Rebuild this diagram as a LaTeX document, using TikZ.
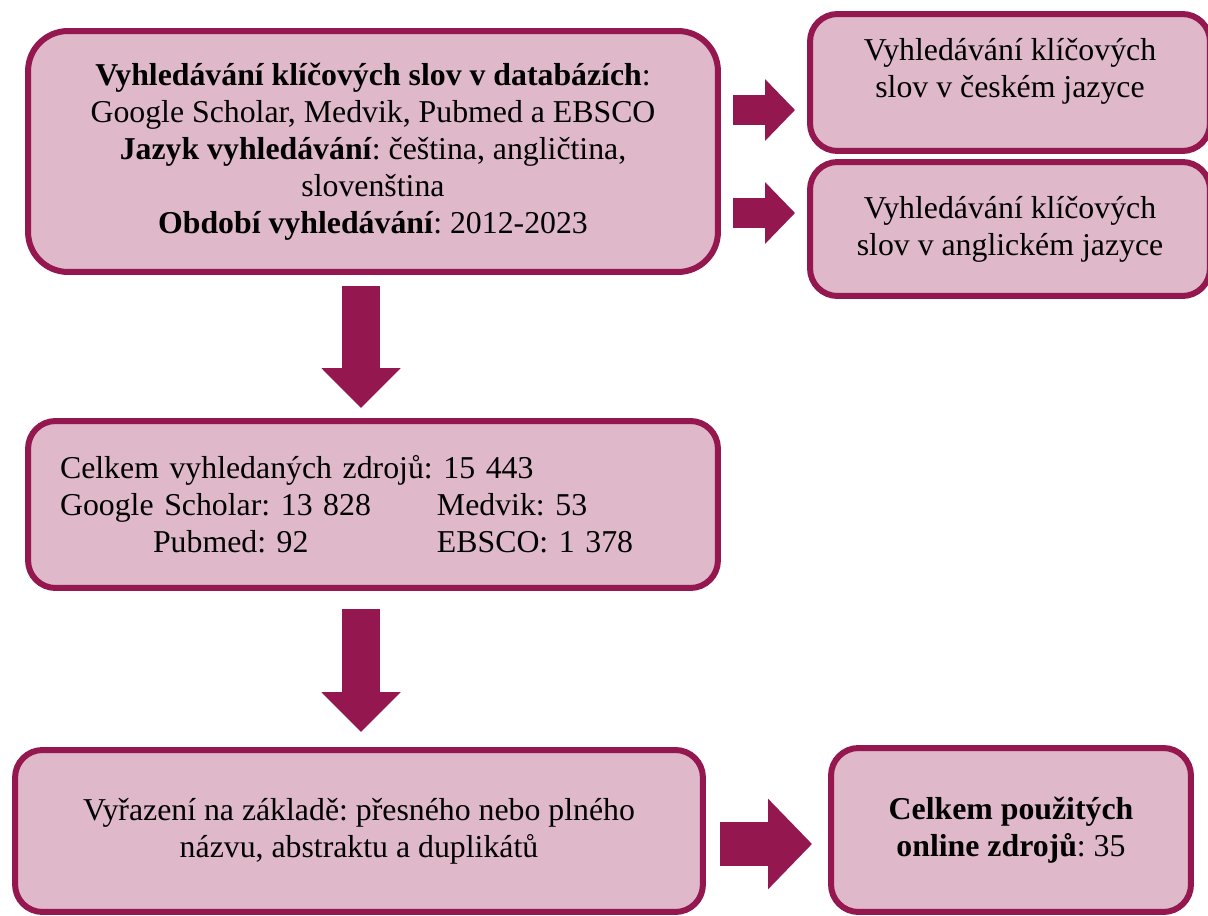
\documentclass[tikz,border=0pt]{standalone}
\usepackage{fontspec}
\setmainfont{Liberation Serif}
\usetikzlibrary{arrows.meta}
\definecolor{boxfill}{RGB}{223,184,201}
\definecolor{boxline}{RGB}{148,23,79}
\frenchspacing

\begin{document}
\begin{tikzpicture}[x=0.02cm, y=-0.02cm,
roundbox/.style={rectangle, rounded corners=0.55cm, draw=boxline, fill=boxfill, line width=0.12cm, align=center, font=\fontsize{18.1pt}{21pt}\selectfont},
thinarrow/.style={draw=boxline, line width=0.6cm, -{Triangle[width=1.2cm, length=0.6cm, fill=boxline]}},
downarrow/.style={draw=boxline, line width=0.78cm, -{Triangle[width=1.54cm, length=0.8cm, fill=boxline]}},
widearrow/.style={draw=boxline, line width=0.88cm, -{Triangle[width=1.76cm, length=0.88cm, fill=boxline]}},
]
\useasboundingbox (0,0) rectangle (1208,916);
%Nodes
\node[roundbox, rounded corners=0.8cm, minimum width=13.8cm, minimum height=4.82cm] at (373,151.5) (nodeSearch) {\textbf{Vyhledávání klíčových slov v databázích}:\\ Google Scholar, Medvik, Pubmed a EBSCO\\ \textbf{Jazyk vyhledávání}: čeština, angličtina,\\ slovenština\\ \textbf{Období vyhledávání}: 2012-2023};
\node[roundbox, minimum width=8cm, minimum height=2.74cm, text depth=0.6cm] at (1010,82.5) (nodeCZ) {Vyhledávání klíčových\\ slov v českém jazyce};
\node[roundbox, minimum width=8cm, minimum height=2.68cm] at (1010,229) (nodeEN) {Vyhledávání klíčových\\ slov v anglickém jazyce};
\node[roundbox, minimum width=13.8cm, minimum height=3.34cm, text width=12.52cm, align=left] at (373,504.5) (nodeTotal) {Celkem vyhledaných zdrojů: 15 443\\ \makebox[7.54cm][l]{Google Scholar: 13 828}Medvik: 53\\ \hspace*{1.86cm}\makebox[5.68cm][l]{Pubmed: 92}EBSCO: 1 378};
\node[roundbox, minimum width=13.76cm, minimum height=3.24cm] at (359,831) (nodeExcl) {Vyřazení na základě: přesného nebo plného\\ názvu, abstraktu a duplikátů};
\node[roundbox, minimum width=7.2cm, minimum height=3.28cm] at (1011,830) (nodeUsed) {\textbf{Celkem použitých}\\ \textbf{online zdrojů}: 35};
%Arrows
\path[thinarrow, shorten <=0.24cm, shorten >=0.24cm] (nodeSearch.east |- 0,110) -- (nodeCZ.west |- 0,110);
\path[thinarrow, shorten <=0.24cm, shorten >=0.24cm] (nodeSearch.east |- 0,213) -- (nodeEN.west |- 0,213);
\path[downarrow, shorten <=0.22cm, shorten >=0.2cm] (nodeSearch.south -| 361,0) -- (nodeTotal.north -| 361,0);
\path[downarrow, shorten <=0.36cm, shorten >=0.3cm] (nodeTotal.south -| 361,0) -- (nodeExcl.north -| 361,0);
\path[widearrow, shorten <=0.28cm, shorten >=0.32cm] (nodeExcl.east |- 0,844) -- (nodeUsed.west |- 0,844);
\end{tikzpicture}
\end{document}
